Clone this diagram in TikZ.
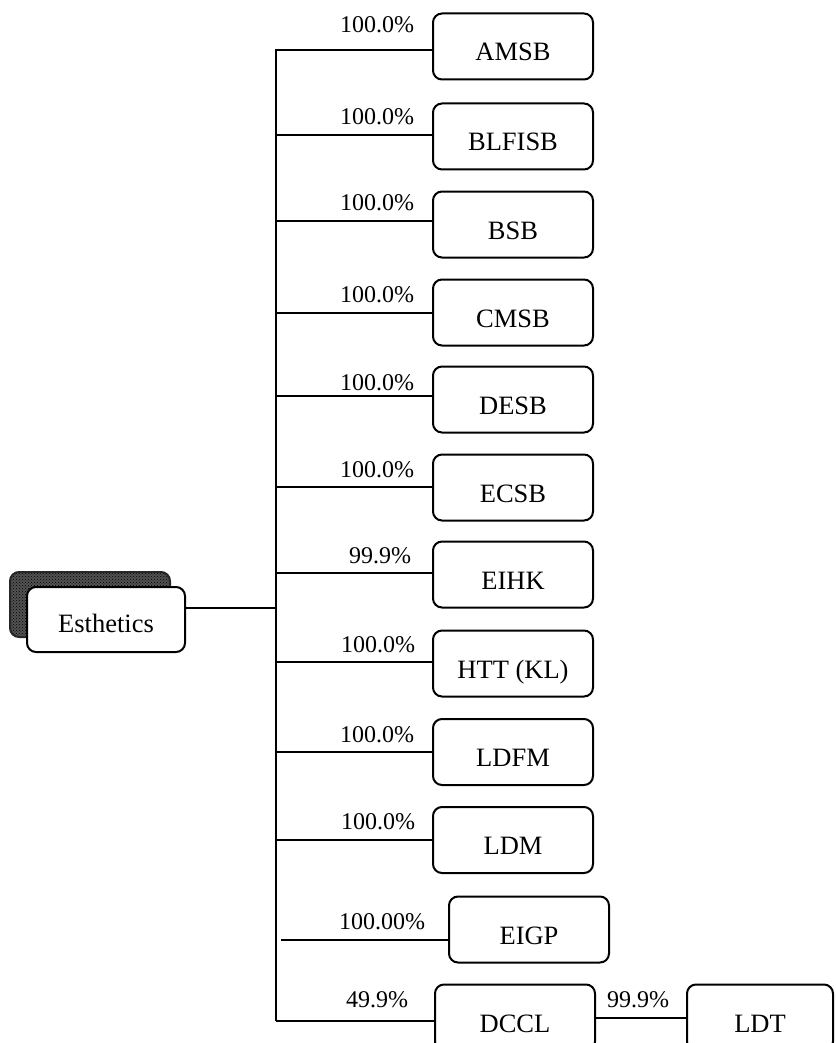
\documentclass[tikz,border=0pt]{standalone}
\usepackage{fontspec}
\setmainfont{Liberation Serif}
\usetikzlibrary{calc,patterns}
\tikzset{
  blk/.style={draw=black,fill=white,rounded corners=9pt,line width=2pt,
              minimum width=160pt,minimum height=66pt,inner sep=0pt,
              font=\fontsize{26.5}{29}\selectfont,text height=29pt,text depth=0pt},
  blksh/.style={draw=black!85,rounded corners=9pt,line width=2pt,
                preaction={fill=black!68},pattern=crosshatch dots,pattern color=black,
                minimum width=160pt,minimum height=65pt,inner sep=0pt},
  link/.style={line width=2pt},
  lbl/.style={font=\fontsize{24}{26}\selectfont,inner sep=0pt,anchor=base east,pos=1},
}

\begin{document}
\begin{tikzpicture}[x=1pt,y=-1pt]
  \useasboundingbox (0,0) rectangle (835,1043);
  \clip (0,0) rectangle (835,1043);

  % root with its shadow
  \node[blksh] (estsh) at (90,604.5) {};
  \node[blk,minimum width=158pt,minimum height=65pt,
        font=\fontsize{26.5}{29}\selectfont,text height=25pt] (est) at (106,619.5) {Esthetics};

  % subsidiaries
  \node[blk] (amsb)   at (513,46.5)  {AMSB};
  \node[blk] (blfisb) at (513,136.5) {BLFISB};
  \node[blk] (bsb)    at (513,224.5) {BSB};
  \node[blk] (cmsb)   at (513,312.5) {CMSB};
  \node[blk] (desb)   at (513,399.5) {DESB};
  \node[blk] (ecsb)   at (513,487.5) {ECSB};
  \node[blk] (eihk)   at (513,574.5) {EIHK};
  \node[blk] (htt)    at (513,663.5) {HTT (KL)};
  \node[blk] (ldfm)   at (513,752)   {LDFM};
  \node[blk] (ldm)    at (513,840)   {LDM};
  \node[blk] (eigp)   at (529,929.5) {EIGP};
  \node[blk] (dccl)   at (515,1017.5) {DCCL};
  \node[blk,minimum width=146pt] (ldt) at (760,1017.5) {LDT};

  % trunk and its joints
  \coordinate (ttop) at (276,49);
  \coordinate (j0)  at (276,608);
  \coordinate (j1)  at (276,50);
  \coordinate (j2)  at (276,135);
  \coordinate (j3)  at (276,221);
  \coordinate (j4)  at (276,313);
  \coordinate (j5)  at (276,396);
  \coordinate (j6)  at (276,487);
  \coordinate (j7)  at (276,573);
  \coordinate (j8)  at (276,662);
  \coordinate (j9)  at (276,752);
  \coordinate (j10) at (276,840);
  \coordinate (j11) at (276,940);
  \coordinate (j12) at (276,1021);

  \draw[link] (ttop) -- (j12);
  \draw[link] (est.east |- j0) -- (j0);

  \draw[link] (j1) -- (j1 -| amsb.west)
    node[lbl,xshift=-17pt,yshift=17pt] {100.0\%};
  \draw[link] (j2) -- (j2 -| blfisb.west)
    node[lbl,xshift=-17pt,yshift=10pt] {100.0\%};
  \draw[link] (j3) -- (j3 -| bsb.west)
    node[lbl,xshift=-17pt,yshift=10pt] {100.0\%};
  \draw[link] (j4) -- (j4 -| cmsb.west)
    node[lbl,xshift=-17pt,yshift=11pt] {100.0\%};
  \draw[link] (j5) -- (j5 -| desb.west)
    node[lbl,xshift=-17pt,yshift=6pt] {100.0\%};
  \draw[link] (j6) -- (j6 -| ecsb.west)
    node[lbl,xshift=-17pt,yshift=10pt] {100.0\%};
  \draw[link] (j7) -- (j7 -| eihk.west)
    node[lbl,xshift=-20pt,yshift=10pt] {99.9\%};
  \draw[link] (j8) -- (j8 -| htt.west)
    node[lbl,xshift=-16pt,yshift=10pt] {100.0\%};
  \draw[link] (j9) -- (j9 -| ldfm.west)
    node[lbl,xshift=-17pt,yshift=10pt] {100.0\%};
  \draw[link] (j10) -- (j10 -| ldm.west)
    node[lbl,xshift=-16pt,yshift=11pt] {100.0\%};
  \draw[link] ([xshift=5pt]j11) -- (j11 -| eigp.west)
    node[lbl,xshift=-22pt,yshift=11pt] {100.00\%};
  \draw[link] (j12) -- (j12 -| dccl.west)
    node[lbl,xshift=-25pt,yshift=14pt] {49.9\%};

  \draw[link] (dccl.east) -- (ldt.west)
    node[lbl,xshift=-16pt,yshift=10pt] {99.9\%};
\end{tikzpicture}
\end{document}
